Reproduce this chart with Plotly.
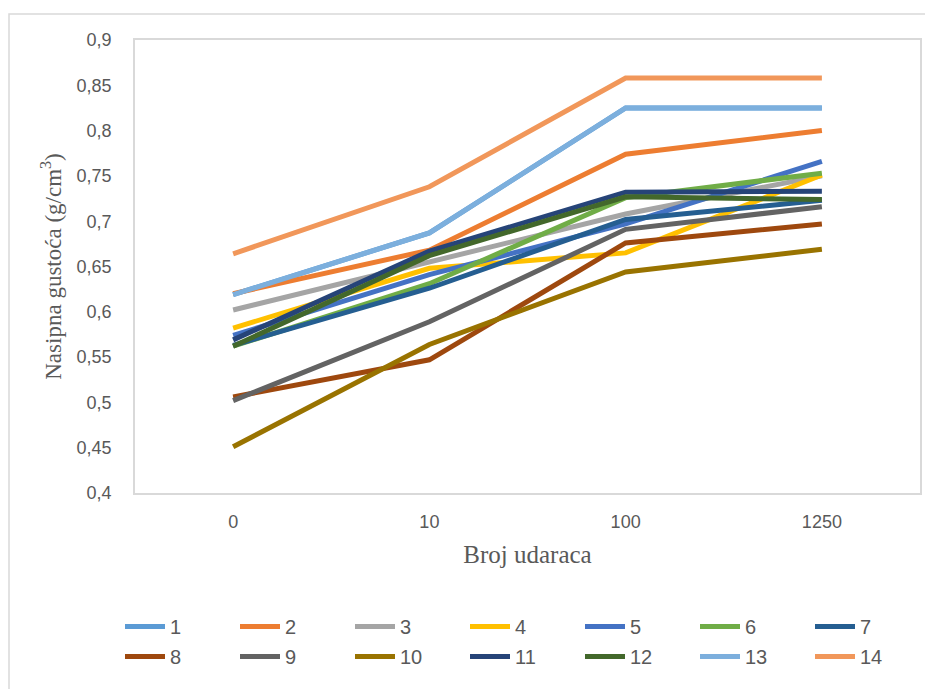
import plotly.graph_objects as go

categories = ["0", "10", "100", "1250"]
series_names = ["1", "2", "3", "4", "5", "6", "7", "8", "9", "10", "11", "12", "13", "14"]
s1 = [0.619, 0.687, 0.825, 0.825]
s2 = [0.620, 0.668, 0.774, 0.800]
s3 = [0.602, 0.655, 0.708, 0.750]
s4 = [0.582, 0.648, 0.665, 0.751]
s5 = [0.574, 0.641, 0.697, 0.766]
s6 = [0.562, 0.631, 0.726, 0.753]
s7 = [0.563, 0.626, 0.702, 0.723]
s8 = [0.506, 0.547, 0.676, 0.697]
s9 = [0.502, 0.589, 0.691, 0.716]
s10 = [0.451, 0.564, 0.644, 0.669]
s11 = [0.569, 0.667, 0.732, 0.733]
s12 = [0.562, 0.662, 0.727, 0.724]
s13 = [0.619, 0.687, 0.825, 0.825]
s14 = [0.664, 0.738, 0.858, 0.858]
values = [s1, s2, s3, s4, s5, s6, s7, s8, s9, s10, s11, s12, s13, s14]
colors = ["#5B9BD5", "#ED7D31", "#A5A5A5", "#FFC000", "#4472C4", "#70AD47", "#255E91",
          "#9E480E", "#636363", "#997300", "#264478", "#43682B", "#7CAFDD", "#F1975A"]
y_ticks = [0.4, 0.45, 0.5, 0.55, 0.6, 0.65, 0.7, 0.75, 0.8, 0.85, 0.9]
y_tick_text = ["0,4", "0,45", "0,5", "0,55", "0,6", "0,65", "0,7", "0,75", "0,8", "0,85", "0,9"]

OFF = 8  # default page body margin
fig = go.Figure()
for i, (name, vals, col) in enumerate(zip(series_names, values, colors)):
    fig.add_trace(go.Scatter(x=categories, y=vals, mode="lines", name=name,
                             line=dict(color=col, width=5),
                             legend="legend" if i < 7 else "legend2"))

W, H = 933 - OFF, 689 - OFF
L, T = 135 - OFF, 40 - OFF
pw, ph = 785, 453
R = W - L - pw
B = H - T - ph

def py(page_y):
    return -(page_y - 493) / ph

leg_font = dict(family="Liberation Sans Narrow, Liberation Sans, sans-serif", size=20, color="#595959")
leg_common = dict(orientation="h", x=(120 - 135) / pw, xanchor="left", yanchor="top",
                  entrywidth=60, entrywidthmode="pixels", font=leg_font,
                  traceorder="normal", itemwidth=40, bgcolor="rgba(0,0,0,0)")

fig.update_layout(
    width=W, height=H,
    margin=dict(l=L, r=R, t=T, b=B, autoexpand=False),
    paper_bgcolor="white", plot_bgcolor="white",
    showlegend=True,
    legend=dict(y=py(607), **leg_common),
    legend2=dict(y=py(637), **leg_common),
    font=dict(family="Liberation Sans, sans-serif", color="#595959"),
)
fig.update_xaxes(
    type="category", range=[-0.5, 3.5],
    showgrid=False, zeroline=False,
    showline=True, linecolor="#D9D9D9", linewidth=1.5, mirror=True,
    ticks="", tickfont=dict(size=18, color="#595959"), ticklabelstandoff=12,
    title=dict(text="Broj udaraca", font=dict(family="Liberation Serif, serif", size=25, color="#595959"),
               standoff=14),
)
fig.update_yaxes(
    range=[0.4, 0.9], tickvals=y_ticks, ticktext=y_tick_text,
    showgrid=False, zeroline=False,
    showline=True, linecolor="#D9D9D9", linewidth=1.5, mirror=True,
    ticks="", tickfont=dict(size=18, color="#595959"), ticklabelstandoff=18,
    title=dict(text="Nasipna gustoća (g/cm<sup>3</sup>)",
               font=dict(family="Liberation Serif, serif", size=23, color="#595959"), standoff=9),
)
fig.add_shape(type="rect", xref="paper", yref="paper",
              x0=(9 - 135) / pw, x1=(940 - 135) / pw, y0=py(700), y1=py(14),
              line=dict(color="#D9D9D9", width=1.5), fillcolor="rgba(0,0,0,0)", layer="below")

fig.write_html("out.html")
